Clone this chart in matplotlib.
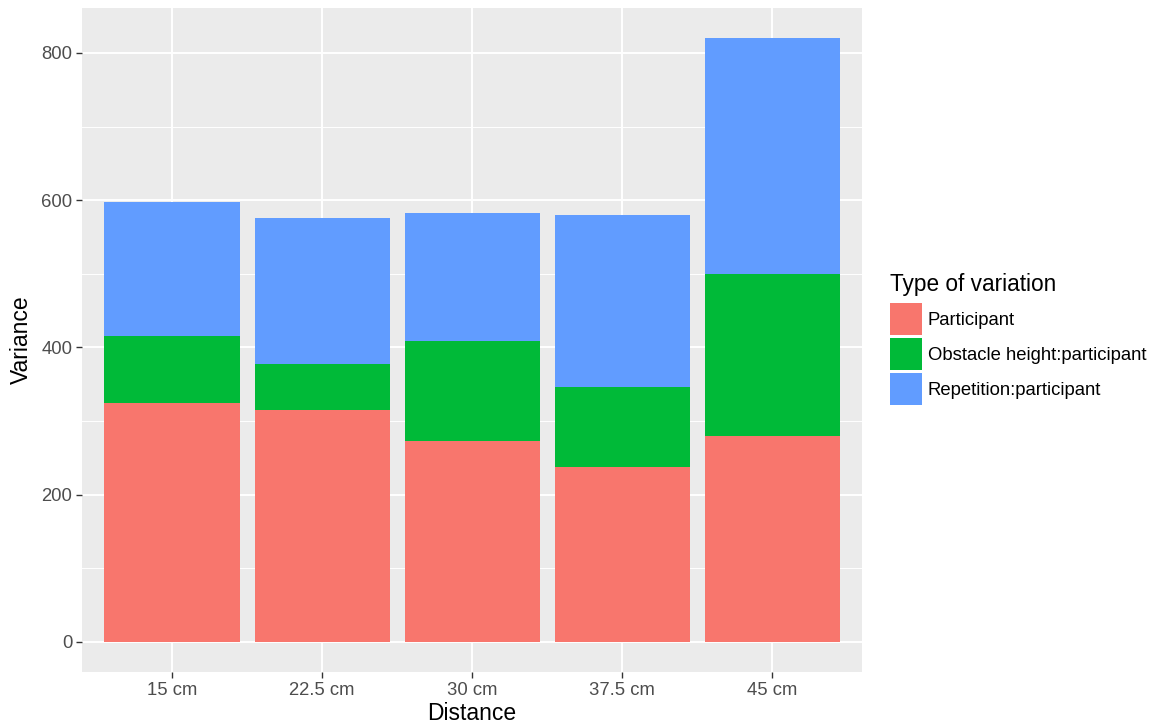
import numpy as np
import matplotlib.pyplot as plt
from matplotlib.patches import Rectangle
from matplotlib.legend_handler import HandlerPatch

distances = ['15 cm', '22.5 cm', '30 cm', '37.5 cm', '45 cm']
participant = [325, 315, 273, 238, 280]
obstacle = [91, 63, 135, 108, 219]
repetition = [182, 198, 175, 234, 321]

series_names = ['Participant', 'Obstacle height:participant', 'Repetition:participant']
colors = ['#F8766D', '#00BA38', '#619CFF']

plt.rcParams['font.family'] = ['Liberation Sans', 'DejaVu Sans']

fig = plt.figure(figsize=(11.68, 7.26), dpi=100)
ax = fig.add_axes([82 / 1168, 54 / 726, 780 / 1168, 664 / 726])
ax.set_facecolor('#EBEBEB')

x = np.arange(len(distances))
bottom = np.zeros(len(distances))
handles = []
for vals, name, col in zip([participant, obstacle, repetition], series_names, colors):
    b = ax.bar(x, vals, width=0.9, bottom=bottom, color=col, label=name, zorder=3)
    handles.append(b.patches[0])
    bottom = bottom + np.array(vals)

total_max = bottom.max()
ax.set_xlim(-0.6, len(distances) - 0.4)
ax.set_ylim(-0.05 * total_max, total_max * 1.05)

ax.set_yticks([0, 200, 400, 600, 800])
ax.set_yticks([100, 300, 500, 700], minor=True)
ax.set_xticks(x)
ax.set_xticklabels(distances)
ax.grid(True, which='major', color='white', linewidth=1.4, zorder=0)
ax.grid(True, which='minor', axis='y', color='white', linewidth=0.7, zorder=0)
ax.set_axisbelow(True)
for s in ax.spines.values():
    s.set_visible(False)

ax.tick_params(axis='both', which='major', length=4, width=1, color='#333333',
               labelcolor='#4D4D4D', labelsize=13.3, pad=3)
ax.tick_params(axis='y', which='minor', length=0)

ax.set_xlabel('Distance', fontsize=16.5, color='black', labelpad=2)
ax.set_ylabel('Variance', fontsize=16.5, color='black', labelpad=6)


# square legend keys like ggplot's
def key_patch(legend, orig_handle, xdescent, ydescent, width, height, fontsize):
    size = width
    cy = -ydescent + height / 2
    return Rectangle((-xdescent, cy - size / 2), width, size)


leg = ax.legend(handles=handles, labels=series_names, title='Type of variation', loc='upper left',
                bbox_to_anchor=(890 / 1168, 1 - 273 / 726), bbox_transform=fig.transFigure,
                frameon=False, fontsize=13.3, title_fontsize=16.3,
                handlelength=1.73, handleheight=1.73, labelspacing=0.54,
                handletextpad=0.32, borderpad=0, borderaxespad=0, alignment='left',
                handler_map={Rectangle: HandlerPatch(patch_func=key_patch)})

fig.savefig('out.png', dpi=100)
